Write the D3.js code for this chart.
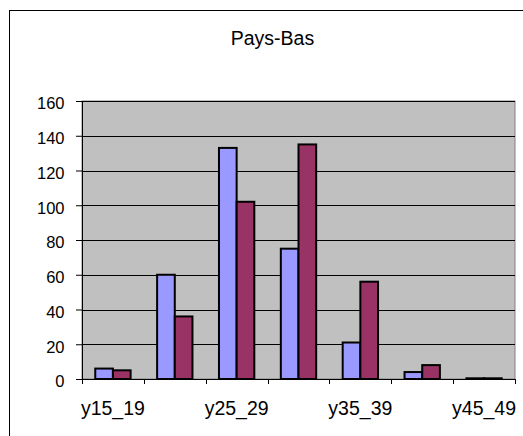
<!DOCTYPE html>
<html><head><meta charset="utf-8">
<script src="https://cdn.jsdelivr.net/npm/d3@7"></script>
<style>body{margin:0;background:#fff}svg{display:block}</style>
</head><body>
<script>
const categories = ["y15_19","y20_24","y25_29","y30_34","y35_39","y40_44","y45_49"];
const series1 = [6, 60, 133, 75, 21, 4, 0.4];
const series2 = [5, 36, 102, 135, 56, 8, 0.4];
const yTicks = [0,20,40,60,80,100,120,140,160];
const title = "Pays-Bas";

const W = 523, H = 436;
const m = {left: 82, right: 515, top: 101, bottom: 379};
const svg = d3.select("body").append("svg").attr("width", W).attr("height", H);
const font = "'Liberation Sans', Arial, sans-serif";

svg.append("rect").attr("x",9.5).attr("y",10.5).attr("width",700).attr("height",700)
  .attr("fill","#fff").attr("stroke","#000");

svg.append("text").attr("x",272.5).attr("y",45).attr("text-anchor","middle")
  .attr("font-family",font).attr("font-size",19.5).text(title);

const x = d3.scaleBand().domain(categories).range([m.left, m.right]);
const y = d3.scaleLinear().domain([0,160]).range([m.bottom, m.top]);

svg.append("rect").attr("x",m.left).attr("y",m.top).attr("width",m.right-m.left).attr("height",m.bottom-m.top)
  .attr("fill","#C0C0C0").attr("stroke","#808080");

svg.append("g").selectAll("line").data(yTicks.filter(d=>d>0)).join("line")
  .attr("x1",m.left).attr("x2",m.right).attr("y1",d=>Math.round(y(d))+0.5).attr("y2",d=>Math.round(y(d))+0.5)
  .attr("stroke","#000").attr("stroke-width",1);

const bw = x.bandwidth()/3.5;
const data = categories.map((c,i)=>({c, v:[series1[i], series2[i]]}));
const colors = ["#9999FF","#993366"];
const g = svg.append("g");
data.forEach(d=>{
  d.v.forEach((v,j)=>{
    const cx = x(d.c) + x.bandwidth()/2;
    const x0 = cx - bw + j*bw;
    g.append("rect").attr("x",x0).attr("y",y(v)).attr("width",bw).attr("height",Math.max(0,y(0)-y(v)))
      .attr("fill",colors[j]).attr("stroke","#000").attr("stroke-width",2);
  });
});

// y axis
const yAxis = d3.axisLeft(y).tickValues(yTicks).tickSize(6).tickPadding(11.5);
const ya = svg.append("g").attr("transform",`translate(${m.left},0)`).call(yAxis);
ya.select(".domain").attr("stroke","#000");
ya.selectAll("text").attr("font-family",font).attr("font-size",16.5).attr("fill","#000").attr("dy","0.48em");

// x axis
const tickPos = d3.range(categories.length+1).map(i=>m.left + i*x.step());
const xa = svg.append("g");
xa.append("line").attr("x1",m.left).attr("x2",m.right).attr("y1",m.bottom+0.5).attr("y2",m.bottom+0.5).attr("stroke","#000");
xa.selectAll("line.t").data(tickPos).join("line").attr("class","t")
  .attr("x1",d=>Math.round(d)+0.5).attr("x2",d=>Math.round(d)+0.5).attr("y1",m.bottom).attr("y2",m.bottom+5).attr("stroke","#000");
xa.selectAll("text").data(categories.filter((c,i)=>i%2===0)).join("text")
  .attr("x",d=>x(d)+x.bandwidth()/2).attr("y",415).attr("text-anchor","middle")
  .attr("font-family",font).attr("font-size",19.5).text(d=>d);
</script>
</body></html>
